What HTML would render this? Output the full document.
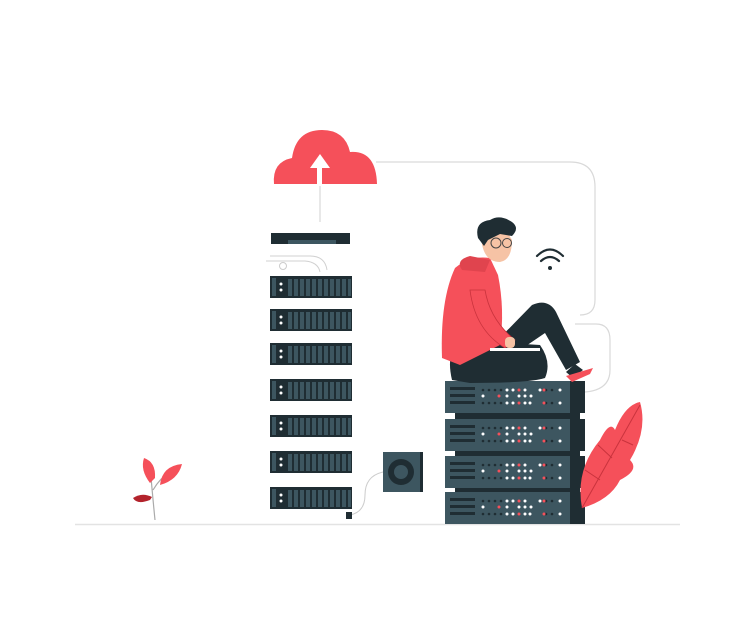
<!DOCTYPE html>
<html><head><meta charset="utf-8"><style>html,body{margin:0;padding:0;background:#fff;}svg{display:block}</style></head>
<body>
<svg width="750" height="643" viewBox="0 0 750 643" xmlns="http://www.w3.org/2000/svg">
<line x1="75" y1="524.5" x2="680" y2="524.5" stroke="#e3e3e3" stroke-width="1.5"/>
<path d="M376 162 H570 Q595 162 595 187 V300 Q595 315 580 315" fill="none" stroke="#d9d9d9" stroke-width="1.2"/>
<path d="M575 324 H596 Q610 324 610 340 V370 Q610 390 585 392" fill="none" stroke="#d9d9d9" stroke-width="1.2"/>
<path d="M270 256 H310 Q325 256 327 270" fill="none" stroke="#d0d0d0" stroke-width="1"/>
<path d="M266 261 H305 Q318 262 320 272" fill="none" stroke="#d0d0d0" stroke-width="1"/>
<circle cx="283" cy="266" r="3.5" fill="none" stroke="#ccc" stroke-width="1"/>
<path d="M274 184 Q272 162 292 158 Q296 130 322 130 Q345 130 350 152 Q376 150 377 184 Z" fill="#f5505a"/>
<line x1="320" y1="163" x2="320" y2="222" stroke="#e0e0e0" stroke-width="1.5"/>
<rect x="317" y="166" width="5" height="20" fill="#fff"/>
<polygon points="320,154 310,168 330,168" fill="#fff"/>
<rect x="271" y="233" width="79" height="11" fill="#1f2d33"/>
<rect x="288" y="240" width="48" height="4" fill="#3d5660"/>
<g id="u">
<rect x="270" y="276" width="82" height="22" fill="#1f2d33"/>
<rect x="272" y="278" width="4" height="18" fill="#3d5660"/>
<circle cx="281" cy="284" r="1.5" fill="#fff"/><circle cx="281" cy="290" r="1.5" fill="#fff"/>
<g fill="#3d5660">
<rect x="288" y="279" width="4" height="17"/><rect x="294" y="279" width="4" height="17"/><rect x="300" y="279" width="4" height="17"/><rect x="306" y="279" width="4" height="17"/><rect x="312" y="279" width="4" height="17"/><rect x="318" y="279" width="4" height="17"/><rect x="324" y="279" width="4" height="17"/><rect x="330" y="279" width="4" height="17"/><rect x="336" y="279" width="4" height="17"/><rect x="342" y="279" width="4" height="17"/><rect x="348" y="279" width="3" height="17"/>
</g></g>
<use href="#u" y="33"/><use href="#u" y="67"/><use href="#u" y="103"/><use href="#u" y="139"/><use href="#u" y="175"/><use href="#u" y="211"/>
<path d="M383 472 Q365 476 365 495 Q365 512 350 515" fill="none" stroke="#ccc" stroke-width="1"/>
<rect x="346" y="512" width="6" height="7" fill="#1f2d33"/>
<rect x="383" y="452" width="40" height="40" fill="#3d5660"/>
<rect x="420" y="452" width="3" height="40" fill="#1f2d33"/>
<circle cx="401" cy="472" r="13" fill="#1f2d33"/><circle cx="401" cy="472" r="7" fill="#3d5660"/>
<rect x="455" y="410" width="125" height="90" fill="#1f2d33"/>
<g id="s">
<rect x="445" y="381" width="125" height="32" fill="#3d5660"/>
<rect x="570" y="381" width="15" height="32" fill="#1f2d33"/>
<rect x="450" y="387" width="25" height="3" fill="#1f2d33"/><rect x="450" y="394" width="25" height="3" fill="#1f2d33"/><rect x="450" y="401" width="25" height="3" fill="#1f2d33"/>
<g fill="#1f2d33"><circle cx="483" cy="390" r="1.3"/><circle cx="489" cy="390" r="1.3"/><circle cx="495" cy="390" r="1.3"/><circle cx="501" cy="390" r="1.3"/><circle cx="546" cy="390" r="1.3"/><circle cx="552" cy="390" r="1.3"/>
<circle cx="483" cy="403" r="1.3"/><circle cx="489" cy="403" r="1.3"/><circle cx="495" cy="403" r="1.3"/><circle cx="501" cy="403" r="1.3"/><circle cx="546" cy="403" r="1.3"/><circle cx="552" cy="403" r="1.3"/></g>
<g fill="#fff"><circle cx="507" cy="390" r="1.5"/><circle cx="513" cy="390" r="1.5"/><circle cx="525" cy="390" r="1.5"/><circle cx="540" cy="390" r="1.5"/><circle cx="560" cy="390" r="1.5"/>
<circle cx="483" cy="396" r="1.5"/><circle cx="507" cy="396" r="1.5"/><circle cx="519" cy="396" r="1.5"/><circle cx="525" cy="396" r="1.5"/><circle cx="531" cy="396" r="1.5"/>
<circle cx="507" cy="403" r="1.5"/><circle cx="513" cy="403" r="1.5"/><circle cx="525" cy="403" r="1.5"/><circle cx="530" cy="403" r="1.5"/><circle cx="560" cy="403" r="1.5"/></g>
<g fill="#f5505a"><circle cx="519" cy="390" r="1.5"/><circle cx="544" cy="390" r="1.5"/><circle cx="499" cy="396" r="1.5"/><circle cx="519" cy="403" r="1.5"/><circle cx="544" cy="403" r="1.5"/></g>
</g>
<use href="#s" y="38"/><use href="#s" y="75"/><use href="#s" y="111"/>
<path d="M582 508 Q575 470 600 440 Q610 420 615 430 Q625 405 640 402 Q648 430 630 460 Q640 470 620 480 Q610 500 582 508Z" fill="#f5505a"/>
<path d="M582 508 L640 405 M600 480 L585 470 M612 458 L598 445 M622 440 L633 445" stroke="#c9333d" stroke-width="1" fill="none"/>
<path d="M155 520 Q152 490 150 465 M153 490 Q160 478 170 472" stroke="#aaa" stroke-width="1.2" fill="none"/>
<path d="M150 483 Q140 470 144 458 Q156 462 155 478Z" fill="#f5505a"/>
<path d="M160 485 Q162 466 182 464 Q178 480 160 485Z" fill="#f5505a"/>
<path d="M150 500 Q137 505 133 498 Q142 492 152 497Z" fill="#b3232c"/>
<g fill="none" stroke="#1f2d33" stroke-width="2.2" stroke-linecap="round">
<path d="M537 256 Q550 243 563 256"/><path d="M541 261 Q550 253 559 261"/></g>
<circle cx="550" cy="268" r="2" fill="#1f2d33"/>
<path d="M452 380 Q445 350 462 340 L540 345 Q552 362 545 378 Q530 383 470 383Z" fill="#1f2d33"/>
<path d="M490 348 L532 305 Q548 298 556 312 L580 362 L566 370 L545 333 L520 350Z" fill="#1f2d33"/>
<path d="M442 358 Q440 300 455 268 Q470 255 490 258 L498 275 Q505 310 500 345 L460 365Z" fill="#f5505a"/>
<path d="M462 270 Q455 260 470 256 L490 260 L485 272Z" fill="#e0444e"/>
<path d="M470 290 Q475 330 505 348 L515 340 Q490 320 485 290Z" fill="#f5505a" stroke="#c9333d" stroke-width="0.8"/>
<rect x="505" y="337" width="10" height="11" rx="4" fill="#f6c3a5"/>
<rect x="490" y="348" width="50" height="3" fill="#fff"/>
<path d="M481 235 Q482 262 500 262 Q512 260 512 240 L506 230Z" fill="#f6c3a5"/>
<path d="M478 238 Q474 222 490 220 Q500 214 512 222 Q520 228 512 236 L500 234 L488 240 L484 246Z" fill="#1f2d33"/>
<g fill="none" stroke="#444" stroke-width="1"><circle cx="496" cy="243" r="5"/><circle cx="507" cy="243" r="4.5"/></g>
<path d="M566 372 L575 364 L583 370 L573 378Z" fill="#1f2d33"/>
<path d="M566 376 L593 368 L590 374 L572 382Z" fill="#f5505a"/>
</svg>
</body></html>
